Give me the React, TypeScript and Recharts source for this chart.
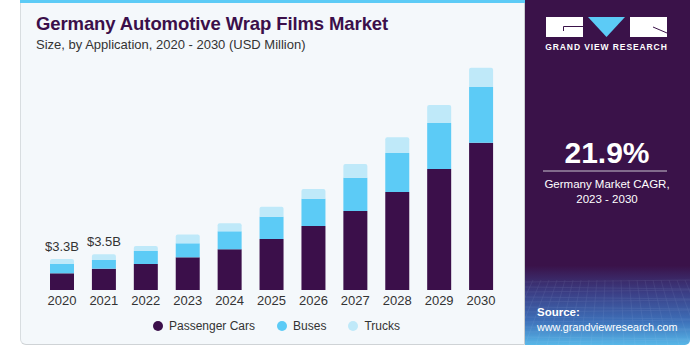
import React from "react";
import { BarChart, Bar, XAxis, YAxis, LabelList } from "recharts";

const years = ["2020", "2021", "2022", "2023", "2024", "2025", "2026", "2027", "2028", "2029", "2030"];
const passengerCars = [1.67, 2.13, 2.6, 3.27, 4.07, 5.1, 6.4, 7.9, 9.8, 12.1, 14.73];
const buses = [0.93, 0.9, 1.3, 1.4, 1.8, 2.23, 2.73, 3.33, 3.9, 4.6, 5.57];
const trucks = [0.5, 0.54, 0.5, 0.87, 0.8, 1.0, 0.97, 1.37, 1.57, 1.8, 1.93];
const totalLabels = ["$3.3B", "$3.5B"];

const seriesNames = ["Passenger Cars", "Buses", "Trucks"];
const seriesColors = ["#3b0f4a", "#5ccbf6", "#bfe9f9"];

const data = years.map((y, i) => ({
  year: y,
  pc: passengerCars[i],
  bus: buses[i],
  truck: trucks[i],
}));

const FONT = "'Liberation Sans', Arial, sans-serif";

const YearTick = (props: any) => {
  const { x, y, payload } = props;
  return (
    <text x={x} y={y + 7} textAnchor="middle" fontSize={13} fill="#333" fontFamily={FONT}>
      {payload.value}
    </text>
  );
};

const TopLabel = (props: any) => {
  const { x, y, width, index } = props;
  if (index >= totalLabels.length) return null;
  return (
    <text x={x + width / 2} y={y - 8} textAnchor="middle" fontSize={13} fill="#333" fontFamily={FONT}>
      {totalLabels[index]}
    </text>
  );
};

export default function App() {
  return (
    <div style={{ position: "absolute", left: 0, top: 0, width: 697, height: 355, background: "#fff", fontFamily: FONT, overflow: "hidden" }}>
      {/* card */}
      <div style={{ position: "absolute", left: 20, top: 0, width: 505, height: 345, background: "#f4f8fb", borderRadius: "0 0 0 6px", borderBottom: "1px solid #cfd3d6", borderLeft: "1px solid #d8dde0", borderRight: "1px solid #c9cdd0", boxSizing: "border-box" }} />
      <div style={{ position: "absolute", left: 20, top: 0, width: 505, height: 3, background: "#5ccbf6" }} />
      {/* title */}
      <div style={{ position: "absolute", left: 36, top: 13, fontSize: 18.5, fontWeight: 700, color: "#3b0f4a", letterSpacing: -0.1, whiteSpace: "nowrap" }}>
        Germany Automotive Wrap Films Market
      </div>
      <div style={{ position: "absolute", left: 36, top: 37, fontSize: 13, color: "#333", whiteSpace: "nowrap" }}>
        Size, by Application, 2020 - 2030 (USD Million)
      </div>
      {/* chart */}
      <div style={{ position: "absolute", left: 0, top: 0 }}>
        <BarChart width={544} height={355} data={data} margin={{ top: 60, right: 42, bottom: 35, left: 41 }}>
          <XAxis dataKey="year" axisLine={false} tickLine={false} interval={0} height={30} tick={<YearTick />} />
          <YAxis hide domain={[0, 23]} />
          <Bar dataKey="pc" stackId="a" fill={seriesColors[0]} barSize={24} isAnimationActive={false} />
          <Bar dataKey="bus" stackId="a" fill={seriesColors[1]} barSize={24} isAnimationActive={false} />
          <Bar dataKey="truck" stackId="a" fill={seriesColors[2]} barSize={24} radius={[2, 2, 0, 0]} isAnimationActive={false}>
            <LabelList dataKey="truck" content={<TopLabel />} />
          </Bar>
        </BarChart>
      </div>
      {/* legend */}
      <div style={{ position: "absolute", left: 153, top: 319, display: "flex", alignItems: "center", fontSize: 12, color: "#333", whiteSpace: "nowrap" }}>
        {seriesNames.map((n, i) => (
          <div key={n} style={{ display: "flex", alignItems: "center", marginRight: i < 2 ? 22 : 0 }}>
            <span style={{ width: 10, height: 10, borderRadius: 5, background: seriesColors[i], display: "inline-block", marginRight: 6 }} />
            <span>{n}</span>
          </div>
        ))}
      </div>
      {/* right panel */}
      <div style={{ position: "absolute", left: 525, top: 0, width: 165, height: 345, background: "linear-gradient(to bottom, #3a1249 0%, #3a1249 77%, #3b3f86 85%, #3d6fb8 93%, #58b7e8 100%)", borderRadius: "0 0 5px 0" }} />
      <svg style={{ position: "absolute", left: 525, top: 0 }} width={165} height={345}>
        <g opacity={0.12} stroke="#cfe4ff" strokeWidth={0.6} fill="none">
          {Array.from({ length: 14 }).map((_, i) => (
            <line key={"h" + i} x1={0} x2={165} y1={282 + i * 5} y2={282 + i * 5 + (i % 2 ? 2 : -2)} />
          ))}
          {Array.from({ length: 22 }).map((_, i) => (
            <line key={"v" + i} x1={i * 8} x2={i * 8 + (i - 11) * 3} y1={280} y2={345} />
          ))}
        </g>
        {/* logo */}
        <rect x={21} y={17} width={37} height={20} fill="#fff" />
        <path d="M58 26.5 H38.5 V31" stroke="#3a1249" strokeWidth={1} fill="none" />
        <polygon points="63,17 100,17 81.5,37" fill="#5ccbf6" />
        <rect x={105} y={17} width={37} height={20} fill="#fff" />
        <path d="M128 27 L142 33" stroke="#3a1249" strokeWidth={1} fill="none" />
        <text x={81.5} y={50} textAnchor="middle" fill="#fff" fontSize={8.5} fontWeight={700} letterSpacing={0.9} fontFamily={FONT}>
          GRAND VIEW RESEARCH
        </text>
        <text x={82} y={163} textAnchor="middle" fill="#fff" fontSize={30} fontWeight={700} fontFamily={FONT}>
          21.9%
        </text>
        <line x1={18} x2={142} y1={171} y2={171} stroke="#c9c3cf" strokeWidth={1} />
        <text x={82} y={188} textAnchor="middle" fill="#fff" fontSize={11.5} fontFamily={FONT}>
          Germany Market CAGR,
        </text>
        <text x={82} y={203} textAnchor="middle" fill="#fff" fontSize={11.5} fontFamily={FONT}>
          2023 - 2030
        </text>
        <text x={12} y={316} fill="#fff" fontSize={11.5} fontWeight={700} fontFamily={FONT}>
          Source:
        </text>
        <text x={12} y={331} fill="#fff" fontSize={10.8} fontFamily={FONT}>
          www.grandviewresearch.com
        </text>
      </svg>
    </div>
  );
}
